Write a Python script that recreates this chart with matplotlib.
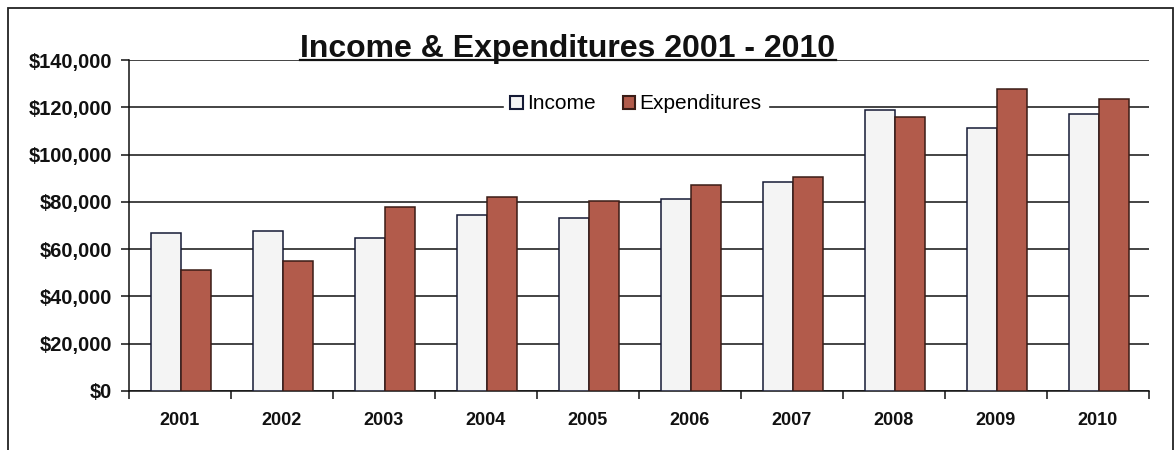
import numpy as np
import matplotlib
matplotlib.use("Agg")
import matplotlib.pyplot as plt
from matplotlib.patches import Rectangle, Patch
from matplotlib.lines import Line2D
from matplotlib.ticker import FuncFormatter

plt.rcParams['font.family'] = ['Liberation Sans', 'DejaVu Sans']

years = ['2001', '2002', '2003', '2004', '2005', '2006', '2007', '2008', '2009', '2010']
income = [66800, 67800, 64800, 74400, 73000, 81200, 88500, 118900, 111100, 117200]
expenditures = [51200, 55000, 77700, 81900, 80500, 87100, 90600, 116000, 127700, 123500]

income_color = '#f4f4f4'
exp_color = '#b25b4b'

W, H = 1175, 450
fig = plt.figure(figsize=(W / 100, H / 100), dpi=100)
ax = fig.add_axes([129 / W, 1 - 391 / H, (1149 - 129) / W, (391 - 60) / H])

x = np.arange(len(years))
bw = 0.29
ax.bar(x - bw / 2 + 0.01, income, bw, color=income_color, edgecolor='#151a35', linewidth=1.1, zorder=3)
ax.bar(x + bw / 2 + 0.01, expenditures, bw, color=exp_color, edgecolor='#3a1c16', linewidth=1.1, zorder=3)

ax.set_xlim(-0.5, len(years) - 0.5)
ax.set_ylim(0, 140000)
ax.set_yticks(np.arange(0, 140001, 20000))
ax.yaxis.set_major_formatter(FuncFormatter(lambda v, p: f"${v:,.0f}"))
ax.yaxis.grid(True, color='#111111', linewidth=1.1, zorder=0)
ax.set_axisbelow(True)

# category boundaries get the tick marks, labels sit in between
ax.set_xticks(np.arange(-0.5, len(years), 1.0))
ax.set_xticklabels([])
ax.set_xticks(x, minor=True)
ax.set_xticklabels(years, minor=True)
ax.tick_params(axis='x', which='major', direction='out', length=6, width=1.1, color='#111111')
ax.tick_params(axis='x', which='minor', length=0, pad=15, labelsize=13)
ax.tick_params(axis='y', direction='out', length=6, width=1.1, color='#111111', labelsize=14.5, pad=6)
for lbl in ax.get_yticklabels() + ax.get_xticklabels(minor=True):
    lbl.set_fontweight('bold')
    lbl.set_color('#111111')

for s in ['top', 'right']:
    ax.spines[s].set_visible(False)
for s in ['left', 'bottom']:
    ax.spines[s].set_color('#111111')
    ax.spines[s].set_linewidth(1.1)

# legend
handles = [Patch(facecolor=income_color, edgecolor='#151a35', linewidth=1.5, label='Income'),
           Patch(facecolor=exp_color, edgecolor='#3a1c16', linewidth=1.5, label='Expenditures')]
fig.legend(handles=handles, loc='center', bbox_to_anchor=(636 / W, 1 - 104 / H), ncol=2,
           frameon=True, facecolor='white', edgecolor='white', framealpha=1, fontsize=15,
           handlelength=0.6, handleheight=0.6, handletextpad=0.2, columnspacing=1.3,
           borderpad=0.3, borderaxespad=0)

# title with underline
title = fig.text(568 / W, 1 - 57 / H, 'Income & Expenditures 2001 - 2010', ha='center', va='baseline',
                 fontsize=23, fontweight='bold', color='#111111')
fig.canvas.draw()
bb = title.get_window_extent(fig.canvas.get_renderer())
fig.add_artist(Line2D([bb.x0 / W, bb.x1 / W], [1 - 60 / H, 1 - 60 / H], color='#111111', linewidth=1.6))

# outer chart border
fig.add_artist(Rectangle((8 / W, -0.1), (1173 - 8) / W, (1 - 8 / H) + 0.1, transform=fig.transFigure,
                         fill=False, edgecolor='#222222', linewidth=1.3))

fig.savefig('out.png', dpi=100)
